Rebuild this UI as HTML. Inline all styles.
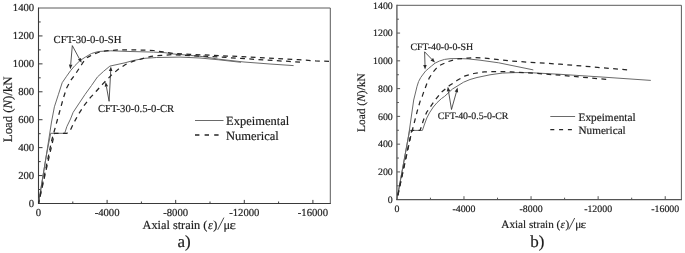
<!DOCTYPE html>
<html><head><meta charset="utf-8"><style>
html,body{margin:0;padding:0;background:#fff;}
body{width:685px;height:253px;overflow:hidden;}
svg{display:block;font-family:"Liberation Serif",serif;filter:grayscale(1);text-rendering:geometricPrecision;}
svg text{fill:#1c1c1c;stroke:#1c1c1c;stroke-width:0.18px;}
</style></head><body>
<svg width="685" height="253" viewBox="0 0 685 253">
<rect width="685" height="253" fill="#fff"/>
<path d="M38.5,8 H330.3 V203.5" fill="none" stroke="#5a5a5a" stroke-width="1"/>
<path d="M38.5,7.5 V203.5 H330.8" fill="none" stroke="#3a3a3a" stroke-width="1.1"/>
<line x1="38.5" y1="189.54" x2="40.7" y2="189.54" stroke="#3a3a3a" stroke-width="1"/>
<line x1="38.5" y1="175.57" x2="42.5" y2="175.57" stroke="#3a3a3a" stroke-width="1"/>
<line x1="38.5" y1="161.61" x2="40.7" y2="161.61" stroke="#3a3a3a" stroke-width="1"/>
<line x1="38.5" y1="147.64" x2="42.5" y2="147.64" stroke="#3a3a3a" stroke-width="1"/>
<line x1="38.5" y1="133.68" x2="40.7" y2="133.68" stroke="#3a3a3a" stroke-width="1"/>
<line x1="38.5" y1="119.71" x2="42.5" y2="119.71" stroke="#3a3a3a" stroke-width="1"/>
<line x1="38.5" y1="105.75" x2="40.7" y2="105.75" stroke="#3a3a3a" stroke-width="1"/>
<line x1="38.5" y1="91.79" x2="42.5" y2="91.79" stroke="#3a3a3a" stroke-width="1"/>
<line x1="38.5" y1="77.82" x2="40.7" y2="77.82" stroke="#3a3a3a" stroke-width="1"/>
<line x1="38.5" y1="63.86" x2="42.5" y2="63.86" stroke="#3a3a3a" stroke-width="1"/>
<line x1="38.5" y1="49.89" x2="40.7" y2="49.89" stroke="#3a3a3a" stroke-width="1"/>
<line x1="38.5" y1="35.93" x2="42.5" y2="35.93" stroke="#3a3a3a" stroke-width="1"/>
<line x1="38.5" y1="21.96" x2="40.7" y2="21.96" stroke="#3a3a3a" stroke-width="1"/>
<line x1="72.80" y1="203.5" x2="72.80" y2="201.5" stroke="#3a3a3a" stroke-width="1"/>
<line x1="107.10" y1="203.5" x2="107.10" y2="199.9" stroke="#3a3a3a" stroke-width="1"/>
<line x1="141.40" y1="203.5" x2="141.40" y2="201.5" stroke="#3a3a3a" stroke-width="1"/>
<line x1="175.70" y1="203.5" x2="175.70" y2="199.9" stroke="#3a3a3a" stroke-width="1"/>
<line x1="210.00" y1="203.5" x2="210.00" y2="201.5" stroke="#3a3a3a" stroke-width="1"/>
<line x1="244.30" y1="203.5" x2="244.30" y2="199.9" stroke="#3a3a3a" stroke-width="1"/>
<line x1="278.60" y1="203.5" x2="278.60" y2="201.5" stroke="#3a3a3a" stroke-width="1"/>
<line x1="312.90" y1="203.5" x2="312.90" y2="199.9" stroke="#3a3a3a" stroke-width="1"/>
<text x="34.2" y="206.90" text-anchor="end" font-size="10.7">0</text>
<text x="34.2" y="178.97" text-anchor="end" font-size="10.7">200</text>
<text x="34.2" y="151.04" text-anchor="end" font-size="10.7">400</text>
<text x="34.2" y="123.11" text-anchor="end" font-size="10.7">600</text>
<text x="34.2" y="95.19" text-anchor="end" font-size="10.7">800</text>
<text x="34.2" y="67.26" text-anchor="end" font-size="10.7">1000</text>
<text x="34.2" y="39.33" text-anchor="end" font-size="10.7">1200</text>
<text x="34.2" y="11.40" text-anchor="end" font-size="10.7">1400</text>
<text x="38.50" y="216" text-anchor="middle" font-size="10.7">0</text>
<text x="107.10" y="216" text-anchor="middle" font-size="10.7">-4000</text>
<text x="175.70" y="216" text-anchor="middle" font-size="10.7">-8000</text>
<text x="244.30" y="216" text-anchor="middle" font-size="10.7">-12000</text>
<text x="312.90" y="216" text-anchor="middle" font-size="10.7">-16000</text>
<path d="M396.9,5.3 H681.4 V199.7" fill="none" stroke="#5a5a5a" stroke-width="1"/>
<path d="M396.9,4.8 V199.7 H681.9" fill="none" stroke="#555" stroke-width="1.3"/>
<line x1="396.9" y1="185.81" x2="398.9" y2="185.81" stroke="#555" stroke-width="1"/>
<line x1="396.9" y1="171.93" x2="400.09999999999997" y2="171.93" stroke="#555" stroke-width="1"/>
<line x1="396.9" y1="158.04" x2="398.9" y2="158.04" stroke="#555" stroke-width="1"/>
<line x1="396.9" y1="144.16" x2="400.09999999999997" y2="144.16" stroke="#555" stroke-width="1"/>
<line x1="396.9" y1="130.27" x2="398.9" y2="130.27" stroke="#555" stroke-width="1"/>
<line x1="396.9" y1="116.39" x2="400.09999999999997" y2="116.39" stroke="#555" stroke-width="1"/>
<line x1="396.9" y1="102.50" x2="398.9" y2="102.50" stroke="#555" stroke-width="1"/>
<line x1="396.9" y1="88.61" x2="400.09999999999997" y2="88.61" stroke="#555" stroke-width="1"/>
<line x1="396.9" y1="74.73" x2="398.9" y2="74.73" stroke="#555" stroke-width="1"/>
<line x1="396.9" y1="60.84" x2="400.09999999999997" y2="60.84" stroke="#555" stroke-width="1"/>
<line x1="396.9" y1="46.96" x2="398.9" y2="46.96" stroke="#555" stroke-width="1"/>
<line x1="396.9" y1="33.07" x2="400.09999999999997" y2="33.07" stroke="#555" stroke-width="1"/>
<line x1="396.9" y1="19.19" x2="398.9" y2="19.19" stroke="#555" stroke-width="1"/>
<line x1="430.44" y1="199.7" x2="430.44" y2="197.7" stroke="#555" stroke-width="1"/>
<line x1="463.98" y1="199.7" x2="463.98" y2="196.2" stroke="#555" stroke-width="1"/>
<line x1="497.52" y1="199.7" x2="497.52" y2="197.7" stroke="#555" stroke-width="1"/>
<line x1="531.06" y1="199.7" x2="531.06" y2="196.2" stroke="#555" stroke-width="1"/>
<line x1="564.60" y1="199.7" x2="564.60" y2="197.7" stroke="#555" stroke-width="1"/>
<line x1="598.14" y1="199.7" x2="598.14" y2="196.2" stroke="#555" stroke-width="1"/>
<line x1="631.68" y1="199.7" x2="631.68" y2="197.7" stroke="#555" stroke-width="1"/>
<line x1="665.22" y1="199.7" x2="665.22" y2="196.2" stroke="#555" stroke-width="1"/>
<text x="392.8" y="203.00" text-anchor="end" font-size="9.9">0</text>
<text x="392.8" y="175.23" text-anchor="end" font-size="9.9">200</text>
<text x="392.8" y="147.46" text-anchor="end" font-size="9.9">400</text>
<text x="392.8" y="119.69" text-anchor="end" font-size="9.9">600</text>
<text x="392.8" y="91.91" text-anchor="end" font-size="9.9">800</text>
<text x="392.8" y="64.14" text-anchor="end" font-size="9.9">1000</text>
<text x="392.8" y="36.37" text-anchor="end" font-size="9.9">1200</text>
<text x="392.8" y="8.60" text-anchor="end" font-size="9.9">1400</text>
<text x="396.90" y="211.6" text-anchor="middle" font-size="9.9">0</text>
<text x="463.98" y="211.6" text-anchor="middle" font-size="9.9">-4000</text>
<text x="531.06" y="211.6" text-anchor="middle" font-size="9.9">-8000</text>
<text x="598.14" y="211.6" text-anchor="middle" font-size="9.9">-12000</text>
<text x="665.22" y="211.6" text-anchor="middle" font-size="9.9">-16000</text>
<polyline points="38.5,203.5 46.4,155.0 51.5,122.0 54.4,106.8 58.3,94.8 62.2,82.7 66.2,76.8 70.6,70.6 75.0,65.5 79.9,60.7 85.5,57.0 91.5,53.5 96.9,51.9 100.0,51.4 110.8,50.8 130.0,51.5 153.7,52.1 165.0,52.7 172.7,53.9 180.0,54.5 202.9,56.6 218.8,59.2 244.0,62.0 270.0,64.0 293.6,65.6" fill="none" stroke="#6a6a6a" stroke-width="1" stroke-linejoin="round" />
<polyline points="38.5,203.5 46.4,155.0 50.7,133.3 64.7,133.3 66.8,126.7 70.5,119.0 73.1,112.4 79.4,102.9 85.0,94.5 91.5,85.5 97.5,76.9 103.5,71.4 109.9,66.1 125.0,62.8 132.9,60.6 144.8,58.3 156.6,57.5 180.0,57.1 200.0,58.0 218.8,59.8 241.0,62.3" fill="none" stroke="#6a6a6a" stroke-width="1" stroke-linejoin="round" />
<polyline points="396.9,199.7 408.7,135.0 413.7,100.0 416.4,89.0 416.9,86.8 418.6,81.5 420.8,77.4 425.5,71.1 428.2,68.8 431.5,66.0 435.1,63.1 439.5,61.0 444.6,59.4 450.0,58.7 457.7,58.5 468.0,58.9 480.0,60.2 498.7,62.8 533.3,69.9" fill="none" stroke="#6a6a6a" stroke-width="1" stroke-linejoin="round" />
<polyline points="396.9,199.7 409.6,130.4 422.4,130.4 424.6,124.0 426.8,118.0 429.5,112.8 433.3,107.0 437.0,102.7 441.5,98.5 444.7,96.3 452.5,89.0 463.6,82.2 470.0,79.5 477.0,77.5 490.0,74.8 502.2,73.1 515.0,72.6 528.9,72.6 560.0,74.3 600.0,76.9 650.8,80.4" fill="none" stroke="#6a6a6a" stroke-width="1" stroke-linejoin="round" />
<polyline points="38.5,203.5 51.8,140.0 63.4,98.0 66.5,88.3 70.7,80.5 75.6,73.8 80.3,66.6 82.3,63.5 84.3,60.5 86.2,58.2 89.4,56.4 94.1,54.0 98.2,52.5 103.0,51.3 108.0,50.6 118.7,49.9 134.0,49.9 153.7,50.5 163.2,51.9 172.7,53.4 190.0,54.3 218.8,55.6 240.7,56.6 276.8,58.5 298.0,59.6 315.7,60.9 329.0,61.4" fill="none" stroke="#262626" stroke-width="1.25" stroke-dasharray="4.8 4.4" stroke-dashoffset="0.96" stroke-linejoin="round" />
<polyline points="38.5,203.5 54.5,133.3 66.5,133.3 68.5,132.5 70.7,129.4 73.9,122.7 78.6,114.0 84.2,105.3 90.5,97.4 96.0,91.5 103.5,83.2 111.7,74.9 118.0,69.5 125.5,64.5 132.9,61.4 142.4,58.7 151.1,56.3 161.4,55.4 172.0,54.7 195.0,55.8 218.8,57.0 240.7,58.4 279.4,60.9 289.0,61.4 300.0,62.1" fill="none" stroke="#262626" stroke-width="1.25" stroke-dasharray="4.8 4.4" stroke-dashoffset="2.34" stroke-linejoin="round" />
<polyline points="396.9,199.7 411.0,135.0 412.3,130.4 417.1,111.6 420.5,100.0 422.2,96.4 423.4,92.9 425.2,88.1 426.9,83.4 429.3,77.8 433.3,71.8 436.5,68.2 439.9,65.3 448.2,61.6 457.1,58.9 468.0,58.1 475.6,57.6 490.0,58.6 511.1,61.0 535.0,62.6 560.0,64.2 590.0,66.7 627.1,69.9" fill="none" stroke="#262626" stroke-width="1.25" stroke-dasharray="4.8 4.4" stroke-dashoffset="4.16" stroke-linejoin="round" />
<polyline points="396.9,199.7 411.7,130.4 420.0,130.4 421.5,126.5 422.9,121.8 424.8,116.5 426.8,112.0 430.0,107.5 434.4,101.0 441.5,92.2 449.4,85.6 457.3,80.3 465.2,75.9 473.8,73.5 484.4,71.9 498.0,71.5 511.1,71.8 535.0,73.3 560.0,75.2 606.2,79.4" fill="none" stroke="#262626" stroke-width="1.25" stroke-dasharray="4.8 4.4" stroke-dashoffset="5.10" stroke-linejoin="round" />
<line x1="72.3" y1="45.6" x2="70.7" y2="64.6" stroke="#2a2a2a" stroke-width="0.8"/><polygon points="70.3,69.2 68.9,64.5 72.4,64.8" fill="#2a2a2a"/>
<line x1="72.3" y1="45.6" x2="79.4" y2="58.8" stroke="#2a2a2a" stroke-width="0.8"/><polygon points="81.6,62.8 77.9,59.6 81.0,57.9" fill="#2a2a2a"/>
<line x1="109.1" y1="101.3" x2="110.7" y2="71.0" stroke="#2a2a2a" stroke-width="0.8"/><polygon points="110.9,66.4 112.4,71.1 108.9,70.9" fill="#2a2a2a"/>
<line x1="109.1" y1="101.3" x2="106.4" y2="86.5" stroke="#2a2a2a" stroke-width="0.8"/><polygon points="105.6,82.0 108.1,86.2 104.7,86.8" fill="#2a2a2a"/>
<line x1="424.6" y1="51.8" x2="425.0" y2="65.0" stroke="#2a2a2a" stroke-width="0.8"/><polygon points="425.1,69.6 423.2,65.1 426.7,65.0" fill="#2a2a2a"/>
<line x1="424.6" y1="51.8" x2="431.8" y2="59.3" stroke="#2a2a2a" stroke-width="0.8"/><polygon points="435.0,62.6 430.5,60.5 433.1,58.1" fill="#2a2a2a"/>
<line x1="451.5" y1="109.5" x2="448.5" y2="91.3" stroke="#2a2a2a" stroke-width="0.8"/><polygon points="447.8,86.8 450.3,91.1 446.8,91.6" fill="#2a2a2a"/>
<line x1="451.5" y1="109.5" x2="456.4" y2="92.0" stroke="#2a2a2a" stroke-width="0.8"/><polygon points="457.6,87.6 458.1,92.5 454.7,91.6" fill="#2a2a2a"/>
<text x="53.6" y="42.7" font-size="10.7">CFT-30-0-0-SH</text>
<text x="98.0" y="111.9" font-size="10.65">CFT-30-0.5-0-CR</text>
<text x="410.5" y="49.6" font-size="9.9">CFT-40-0-0-SH</text>
<text x="437.7" y="118.9" font-size="9.9">CFT-40-0.5-0-CR</text>
<line x1="195" y1="120.5" x2="223.5" y2="120.5" stroke="#6a6a6a" stroke-width="1"/>
<line x1="195" y1="135" x2="219.5" y2="135" stroke="#262626" stroke-width="1.3" stroke-dasharray="4.4 5.2"/>
<text x="226" y="124.6" font-size="12.5">Expeimental</text>
<text x="226" y="139.5" font-size="12.5">Numerical</text>
<line x1="550.3" y1="116.5" x2="575.1" y2="116.5" stroke="#6a6a6a" stroke-width="1"/>
<line x1="550.3" y1="129.7" x2="572.4" y2="129.7" stroke="#262626" stroke-width="1.3" stroke-dasharray="4 4.8"/>
<text x="578.5" y="120.6" font-size="11.3">Expeimental</text>
<text x="578.5" y="134" font-size="11.2">Numerical</text>
<text x="142.5" y="228.6" font-size="12.3">Axial strain (</text><text x="208.0" y="228.6" font-size="12.3" font-style="italic">&#949;</text><text x="213.3" y="228.6" font-size="12.3">)</text><line x1="217.7" y1="229.8" x2="223.9" y2="217.6" stroke="#1c1c1c" stroke-width="0.8"/><text x="223.6" y="228.6" font-size="12.3">&#956;</text><text transform="translate(229.4,228.6) scale(1.22,1)" font-size="12.3">&#949;</text>
<text x="501.3" y="227.9" font-size="11.2">Axial strain (</text><text x="560.6" y="227.9" font-size="11.2" font-style="italic">&#949;</text><text x="565.4" y="227.9" font-size="11.2">)</text><line x1="568.8" y1="229.4" x2="574.7" y2="218.0" stroke="#1c1c1c" stroke-width="0.8"/><text x="575.2" y="227.9" font-size="11.2">&#956;</text><text transform="translate(580.6,227.9) scale(1.2,1)" font-size="11.2">&#949;</text>
<text transform="translate(11.8,109.3) rotate(-90)" text-anchor="middle" font-size="12.8">Load (<tspan font-style="italic">N</tspan>)/kN</text>
<text transform="translate(364.6,102.6) rotate(-90)" text-anchor="middle" font-size="11.45">Load (<tspan font-style="italic">N</tspan>)/kN</text>
<text x="184" y="246.8" text-anchor="middle" font-size="17">a)</text>
<text x="537.3" y="246.8" text-anchor="middle" font-size="17">b)</text>
</svg>
</body></html>
